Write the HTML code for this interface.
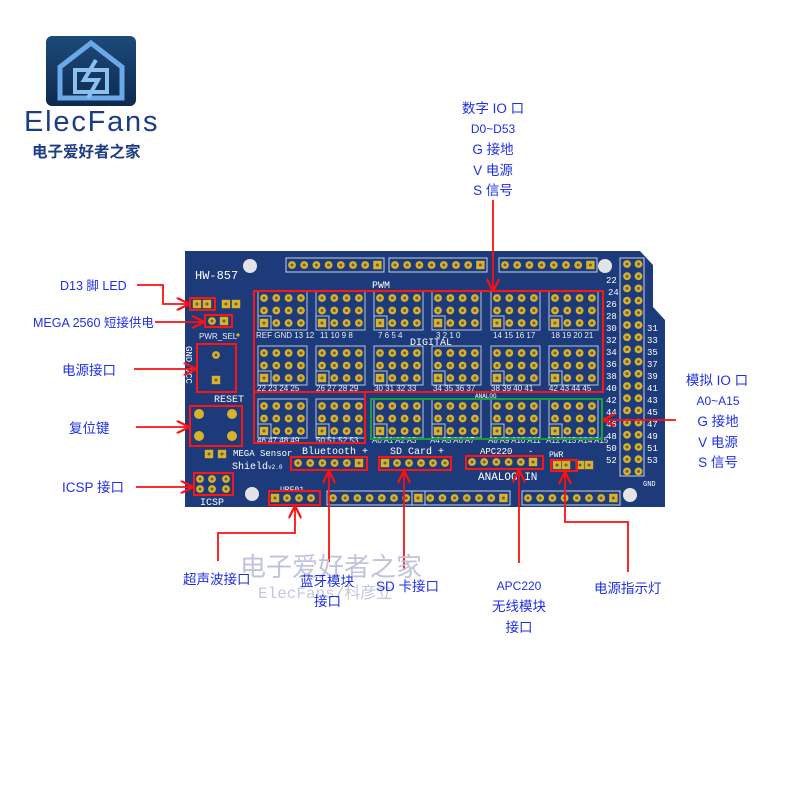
<!DOCTYPE html>
<html><head><meta charset="utf-8"><style>
html,body{margin:0;padding:0;background:#fff}
svg{display:block}
.lb{font-family:"Liberation Sans","Noto Sans CJK SC",sans-serif;fill:#1f2fe6;font-size:13.5px}
.w{font-family:"Liberation Mono","DejaVu Sans Mono",monospace;fill:#fff}
.s{font-family:"Liberation Sans",sans-serif;fill:#e8ecf5;font-size:8px}
</style></head><body>
<svg width="800" height="800" viewBox="0 0 800 800" xmlns="http://www.w3.org/2000/svg">
<defs>
<g id="p"><circle r="3.9" fill="#d8b22a"/><circle r="1.5" fill="#6b5f3a"/></g>
<g id="q"><rect x="-4.2" y="-4.2" width="8.4" height="8.4" fill="#d8b22a"/><circle r="1.5" fill="#6b5f3a"/></g>
<g id="blk">
<rect x="-6" y="-7" width="49" height="39" fill="none" stroke="#b8c4d8" stroke-width="1"/>
<rect x="-6" y="18" width="13" height="14" fill="none" stroke="#b8c4d8" stroke-width="1"/>
<use href="#p" x="0" y="0"/><use href="#p" x="12.3" y="0"/><use href="#p" x="24.6" y="0"/><use href="#p" x="36.9" y="0"/>
<use href="#p" x="0" y="12.5"/><use href="#p" x="12.3" y="12.5"/><use href="#p" x="24.6" y="12.5"/><use href="#p" x="36.9" y="12.5"/>
<use href="#q" x="0" y="25"/><use href="#p" x="12.3" y="25"/><use href="#p" x="24.6" y="25"/><use href="#p" x="36.9" y="25"/>
</g>
<g id="h8">
<rect x="-6" y="-7" width="98" height="14" fill="none" stroke="#c8d0e0" stroke-width="1"/>
<use href="#p" x="0"/><use href="#p" x="12.2"/><use href="#p" x="24.4"/><use href="#p" x="36.6"/><use href="#p" x="48.8"/><use href="#p" x="61"/><use href="#p" x="73.2"/><use href="#q" x="85.4"/>
</g>
<g id="h6">
<use href="#p" x="0"/><use href="#p" x="12.2"/><use href="#p" x="24.4"/><use href="#p" x="36.6"/><use href="#p" x="48.8"/><use href="#q" x="61"/>
</g>
<g id="col"><use href="#p" x="0"/><use href="#p" x="11.5"/></g>
<marker id="ar" viewBox="0 0 10 10" refX="9" refY="5" markerWidth="7" markerHeight="7" orient="auto-start-reverse"><path d="M0,0 L10,5 L0,10" fill="none" stroke="#ff1010" stroke-width="1.8"/></marker>
<linearGradient id="lg" x1="0" y1="0" x2="0" y2="1"><stop offset="0" stop-color="#1d4a7a"/><stop offset="1" stop-color="#0d2a4e"/></linearGradient>
</defs>

<!-- logo -->
<rect x="46" y="36" width="90" height="70" rx="6" fill="url(#lg)"/>
<path d="M60,67 L91,43 L122,67 L122,98 L60,98 Z" fill="none" stroke="#6aa8e8" stroke-width="5"/>
<rect x="75" y="70" width="32" height="22" fill="none" stroke="#8cc0f0" stroke-width="4"/>
<path d="M96,60 L84,80 L98,80 L88,98" fill="none" stroke="#8cc0f0" stroke-width="4"/>
<text x="24" y="131" font-family="Liberation Sans,sans-serif" font-size="29" fill="#1c3d82" letter-spacing="1.8">ElecFans</text>
<text x="32" y="157" font-family="Liberation Sans,'Noto Sans CJK SC',sans-serif" font-size="15.5" fill="#1c3d82" font-weight="bold">电子爱好者之家</text>

<!-- board -->
<path d="M185,251 H640 L653,265 V307 L665,320 V507 H185 Z" fill="#1d3b7a"/>
<circle cx="250" cy="266" r="7" fill="#e4e4e8"/><circle cx="605" cy="266" r="7" fill="#e4e4e8"/>
<circle cx="252" cy="494" r="7" fill="#e4e4e8"/><circle cx="630" cy="495" r="7" fill="#e4e4e8"/>
<text x="195" y="279" class="w" font-size="12" font-family="Liberation Sans">HW-857</text>

<!-- top headers -->
<use href="#h8" x="292" y="265"/><use href="#h8" x="395" y="265"/><use href="#h8" x="505" y="265"/>
<text x="372" y="288" class="w" font-size="10">PWM</text>
<text x="410" y="345" class="w" font-size="10">DIGITAL</text>
<text x="475" y="398" class="w" font-size="6">ANALOG</text>

<!-- blocks -->
<use href="#blk" x="264" y="298"/><use href="#blk" x="322" y="298"/><use href="#blk" x="380" y="298"/><use href="#blk" x="438" y="298"/><use href="#blk" x="497" y="298"/><use href="#blk" x="555" y="298"/>
<use href="#blk" x="264" y="353"/><use href="#blk" x="322" y="353"/><use href="#blk" x="380" y="353"/><use href="#blk" x="438" y="353"/><use href="#blk" x="497" y="353"/><use href="#blk" x="555" y="353"/>
<use href="#blk" x="264" y="406"/><use href="#blk" x="322" y="406"/><use href="#blk" x="380" y="406"/><use href="#blk" x="438" y="406"/><use href="#blk" x="497" y="406"/><use href="#blk" x="555" y="406"/>
<text class="s" x="256" y="338" font-size="7">REF GND 13 12</text><text class="s" x="320" y="338">11 10  9  8</text><text class="s" x="378" y="338">7  6  5  4</text><text class="s" x="436" y="338">3  2  1  0</text><text class="s" x="493" y="338">14 15 16 17</text><text class="s" x="551" y="338">18 19 20 21</text>
<text class="s" x="257" y="391">22 23 24 25</text><text class="s" x="316" y="391">26 27 28 29</text><text class="s" x="374" y="391">30 31 32 33</text><text class="s" x="433" y="391">34 35 36 37</text><text class="s" x="491" y="391">38 39 40 41</text><text class="s" x="549" y="391">42 43 44 45</text>
<text class="s" x="257" y="443" font-size="6.5">46 47 48 49</text><text class="s" x="316" y="443" font-size="6.5">50 51 52 53</text><text class="s" x="372" y="443" font-size="6">A0 A1 A2 A3</text><text class="s" x="430" y="443" font-size="6">A4 A5 A6 A7</text><text class="s" x="488" y="443" font-size="6">A8 A9 A10 A11</text><text class="s" x="546" y="443" font-size="6">A12 A13 A14 A15</text>

<!-- right header -->
<rect x="620" y="258" width="24" height="218" fill="none" stroke="#c8d0e0"/>
<use href="#col" x="627" y="264"/><use href="#col" x="627" y="276.2"/><use href="#col" x="627" y="288.4"/><use href="#col" x="627" y="300.6"/><use href="#col" x="627" y="312.8"/><use href="#col" x="627" y="325"/><use href="#col" x="627" y="337.2"/><use href="#col" x="627" y="349.4"/><use href="#col" x="627" y="361.6"/><use href="#col" x="627" y="373.8"/><use href="#col" x="627" y="386"/><use href="#col" x="627" y="398.2"/><use href="#col" x="627" y="410.4"/><use href="#col" x="627" y="422.6"/><use href="#col" x="627" y="434.8"/><use href="#col" x="627" y="447"/><use href="#col" x="627" y="459.2"/><use href="#col" x="627" y="471.4"/>
<g class="w" font-size="9">
<text x="606" y="283">22</text><text x="608" y="295">24</text><text x="606" y="307">26</text><text x="606" y="319">28</text><text x="606" y="331">30</text><text x="606" y="343">32</text><text x="606" y="355">34</text><text x="606" y="367">36</text><text x="606" y="379">38</text><text x="606" y="391">40</text><text x="606" y="403">42</text><text x="606" y="415">44</text><text x="606" y="427">46</text><text x="606" y="439">48</text><text x="606" y="451">50</text><text x="606" y="463">52</text>
<text x="647" y="331">31</text><text x="647" y="343">33</text><text x="647" y="355">35</text><text x="647" y="367">37</text><text x="647" y="379">39</text><text x="647" y="391">41</text><text x="647" y="403">43</text><text x="647" y="415">45</text><text x="647" y="427">47</text><text x="647" y="439">49</text><text x="647" y="451">51</text><text x="647" y="463">53</text>
<text x="643" y="486" font-size="7">GND</text>
</g>

<!-- left parts -->
<use href="#q" x="197" y="304"/><use href="#q" x="207" y="304"/><use href="#q" x="226" y="304"/><use href="#q" x="236" y="304"/>
<use href="#p" x="212" y="321"/><use href="#q" x="224" y="321"/>
<text x="199" y="339" class="s" font-size="5">PWR_SEL</text><circle cx="238" cy="335" r="1.6" fill="#d8b22a"/>
<use href="#p" x="216" y="355"/><use href="#q" x="216" y="380"/>
<text x="214" y="402" class="w" font-size="10">RESET</text>
<text class="w" font-size="9" transform="translate(186,346) rotate(90)">GND VCC</text>
<circle cx="199" cy="414" r="5" fill="#d8b22a"/><circle cx="232" cy="414" r="5" fill="#d8b22a"/><circle cx="199" cy="436" r="5" fill="#d8b22a"/><circle cx="232" cy="436" r="5" fill="#d8b22a"/>
<use href="#q" x="209" y="454"/><use href="#q" x="222" y="454"/>
<text x="233" y="456" class="w" font-size="9">MEGA Sensor</text>
<text x="232" y="469" class="w" font-size="10">Shield<tspan font-size="6">v2.0</tspan></text>
<use href="#p" x="200" y="479"/><use href="#p" x="212" y="479"/><use href="#p" x="226" y="479"/><use href="#p" x="200" y="489"/><use href="#p" x="212" y="489"/><use href="#p" x="226" y="489"/>
<text x="200" y="505" class="w" font-size="10">ICSP</text>

<!-- bottom connectors -->
<text x="302" y="454" class="w" font-size="10">Bluetooth +</text>
<use href="#h6" x="298" y="463"/>
<text x="390" y="454" class="w" font-size="10">SD Card +</text>
<use href="#q" x="385" y="463"/><use href="#p" x="397" y="463"/><use href="#p" x="409" y="463"/><use href="#p" x="421" y="463"/><use href="#p" x="433" y="463"/><use href="#p" x="445" y="463"/>
<text x="480" y="454" class="w" font-size="9">APC220</text><text x="528" y="454" class="w" font-size="9">-</text>
<use href="#h6" x="472" y="462"/>
<text x="549" y="457" class="w" font-size="8">PWR</text>
<use href="#q" x="557" y="465"/><use href="#q" x="566" y="465"/><use href="#q" x="580" y="465"/><use href="#q" x="589" y="465"/>
<text x="478" y="480" class="w" font-size="11">ANALOG IN</text>
<text x="280" y="492" class="w" font-size="8">URF01</text>
<use href="#q" x="275" y="498"/><use href="#p" x="287" y="498"/><use href="#p" x="299" y="498"/><use href="#p" x="311" y="498"/>
<use href="#h8" x="333" y="498"/><use href="#h8" x="418" y="498"/><use href="#h8" x="528" y="498"/>

<!-- red/green boxes -->
<g fill="none" stroke="#ff1414" stroke-width="2">
<rect x="254" y="291" width="349" height="101"/>
<rect x="254" y="392" width="111" height="51"/>
<rect x="190" y="298" width="25" height="12"/>
<rect x="205" y="315" width="27" height="12"/>
<rect x="197" y="344" width="39" height="48"/>
<rect x="190" y="406" width="52" height="40"/>
<rect x="194" y="473" width="39" height="22"/>
<rect x="291" y="457" width="76" height="13"/>
<rect x="379" y="457" width="72" height="13"/>
<rect x="466" y="456" width="77" height="13"/>
<rect x="551" y="460" width="26" height="11"/>
<rect x="269" y="491" width="51" height="14"/>
</g>
<rect x="371" y="399" width="231" height="40" fill="none" stroke="#19a03a" stroke-width="2"/>

<!-- connectors -->
<g fill="none" stroke="#ff1010" stroke-width="1.8">
<path d="M493,200 V290" marker-end="url(#ar)"/>
<path d="M137,285 H163 V304 H188" marker-end="url(#ar)"/>
<path d="M155,322 H203" marker-end="url(#ar)"/>
<path d="M134,369 H195" marker-end="url(#ar)"/>
<path d="M136,427 H188" marker-end="url(#ar)"/>
<path d="M136,487 H192" marker-end="url(#ar)"/>
<path d="M218,561 V533 H295 V507" marker-end="url(#ar)"/>
<path d="M329,562 V472" marker-end="url(#ar)"/>
<path d="M404,570 V472" marker-end="url(#ar)"/>
<path d="M519,563 V471" marker-end="url(#ar)"/>
<path d="M628,572 V522 H565 V473" marker-end="url(#ar)"/>
<path d="M676,420 H604" marker-end="url(#ar)"/>
</g>

<!-- watermark -->
<text x="240" y="576" font-family="'Noto Sans CJK SC',sans-serif" font-size="26" fill="#bfc3dc">电子爱好者之家</text>
<text x="258" y="598" font-family="'Liberation Mono','Noto Sans CJK SC',monospace" font-size="16" fill="#c4c8dc">ElecFans/科彦立</text>

<!-- labels -->
<g class="lb">
<text x="493" y="113" text-anchor="middle">数字 IO 口</text>
<text x="493" y="133" text-anchor="middle" font-size="12">D0~D53</text>
<text x="493" y="154" text-anchor="middle">G 接地</text>
<text x="493" y="175" text-anchor="middle">V 电源</text>
<text x="493" y="195" text-anchor="middle">S 信号</text>
<text x="60" y="290" font-size="12.5">D13 脚 LED</text>
<text x="33" y="327" font-size="12.5">MEGA 2560 短接供电</text>
<text x="62" y="375">电源接口</text>
<text x="69" y="433">复位键</text>
<text x="62" y="492">ICSP 接口</text>
<text x="183" y="584">超声波接口</text>
<text x="300" y="586">蓝牙模块</text>
<text x="314" y="606">接口</text>
<text x="376" y="591">SD 卡接口</text>
<text x="519" y="590" text-anchor="middle" font-size="12">APC220</text>
<text x="519" y="611" text-anchor="middle">无线模块</text>
<text x="519" y="632" text-anchor="middle">接口</text>
<text x="594" y="593">电源指示灯</text>
<text x="717" y="385" text-anchor="middle">模拟 IO 口</text>
<text x="718" y="405" text-anchor="middle" font-size="12">A0~A15</text>
<text x="718" y="426" text-anchor="middle">G 接地</text>
<text x="718" y="447" text-anchor="middle">V 电源</text>
<text x="718" y="467" text-anchor="middle">S 信号</text>
</g>
</svg>
</body></html>
